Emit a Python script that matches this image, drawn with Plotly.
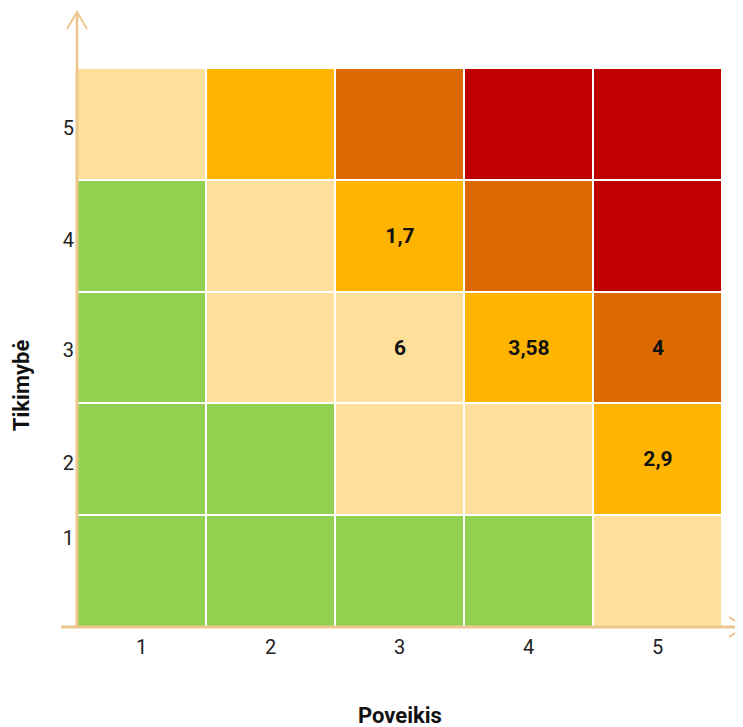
import plotly.graph_objects as go

# Data
impact = [1, 2, 3, 4, 5]            # x: Poveikis
likelihood = [1, 2, 3, 4, 5]        # y: Tikimybė
# risk level per cell, rows = likelihood 1..5, cols = impact 1..5
# 0 = green, 1 = light, 2 = orange, 3 = dark orange, 4 = red
levels = [
    [0, 0, 0, 0, 1],
    [0, 0, 1, 1, 2],
    [0, 1, 1, 2, 3],
    [0, 1, 2, 3, 4],
    [1, 2, 3, 4, 4],
]
cell_text = [
    ["", "", "", "", ""],
    ["", "", "", "", "2,9"],
    ["", "", "6", "3,58", "4"],
    ["", "", "1,7", "", ""],
    ["", "", "", "", ""],
]
level_colors = ["#92D050", "#FFE09B", "#FFB500", "#DC6A00", "#C00000"]
y_tick_vals = [1.30, 1.97, 2.98, 3.96, 4.96]
y_tick_text = ["1", "2", "3", "4", "5"]
x_tick_text = ["1", "2", "3", "4", "5"]

n = len(level_colors)
colorscale = []
for i, c in enumerate(level_colors):
    colorscale.append([i / n, c])
    colorscale.append([(i + 1) / n, c])

axis_color = "#EBC78E"

fig = go.Figure(go.Heatmap(
    x=impact, y=likelihood, z=levels,
    zmin=-0.5, zmax=n - 0.5,
    colorscale=colorscale, showscale=False,
    xgap=2, ygap=2,
    text=cell_text, texttemplate="%{text}",
    textfont=dict(family="Roboto", size=21, color="#111111", weight="bold"),
    hoverinfo="skip",
))

fig.update_layout(
    width=735, height=719,
    margin=dict(l=69, r=21, t=60, b=100),
    plot_bgcolor="white", paper_bgcolor="white",
    font=dict(family="Roboto", size=20, color="#222222"),
    showlegend=False,
)
fig.update_xaxes(range=[0.5, 5.5], tickvals=impact, ticktext=x_tick_text,
                 showgrid=False, zeroline=False, showline=False, ticks="",
                 ticklabelstandoff=6, automargin=False)
fig.update_yaxes(range=[0.5, 5.5], tickvals=y_tick_vals, ticktext=y_tick_text,
                 showgrid=False, zeroline=False, showline=False, ticks="",
                 ticklabelstandoff=2, automargin=False)

# axis lines with open arrowheads
fig.add_shape(type="line", xref="paper", yref="paper", x0=0, x1=0, y0=-0.002, y1=1.0,
              line=dict(color=axis_color, width=3), layer="above")
fig.add_shape(type="path", xref="paper", yref="paper", xsizemode="pixel", ysizemode="pixel",
              xanchor=0, yanchor=1.0, path="M 0 0 L 0 56", line=dict(color=axis_color, width=2.5))
fig.add_shape(type="path", xref="paper", yref="paper", xsizemode="pixel", ysizemode="pixel",
              xanchor=0, yanchor=1.0, path="M -10 39 L 0 56 L 10 39",
              line=dict(color=axis_color, width=2))
fig.add_shape(type="path", xref="paper", yref="paper", xsizemode="pixel", ysizemode="pixel",
              xanchor=0, yanchor=0, path="M -16 0 L 670 0",
              line=dict(color=axis_color, width=3), layer="above")
fig.add_shape(type="path", xref="paper", yref="paper", xsizemode="pixel", ysizemode="pixel",
              xanchor=0, yanchor=0, path="M 652 10 L 668 0 L 652 -10",
              line=dict(color=axis_color, width=2))

fig.add_annotation(text="<b>Poveikis</b>", xref="paper", yref="paper", x=0.5, y=-0.159,
                   xanchor="center", yanchor="middle",
                   showarrow=False, font=dict(size=22, color="#111111"))
fig.add_annotation(text="<b>Tikimybė</b>", xref="paper", yref="paper", x=-0.085, y=0.433,
                   xanchor="center", yanchor="middle",
                   textangle=-90, showarrow=False, font=dict(size=22, color="#111111"))

fig.write_html("out.html")
